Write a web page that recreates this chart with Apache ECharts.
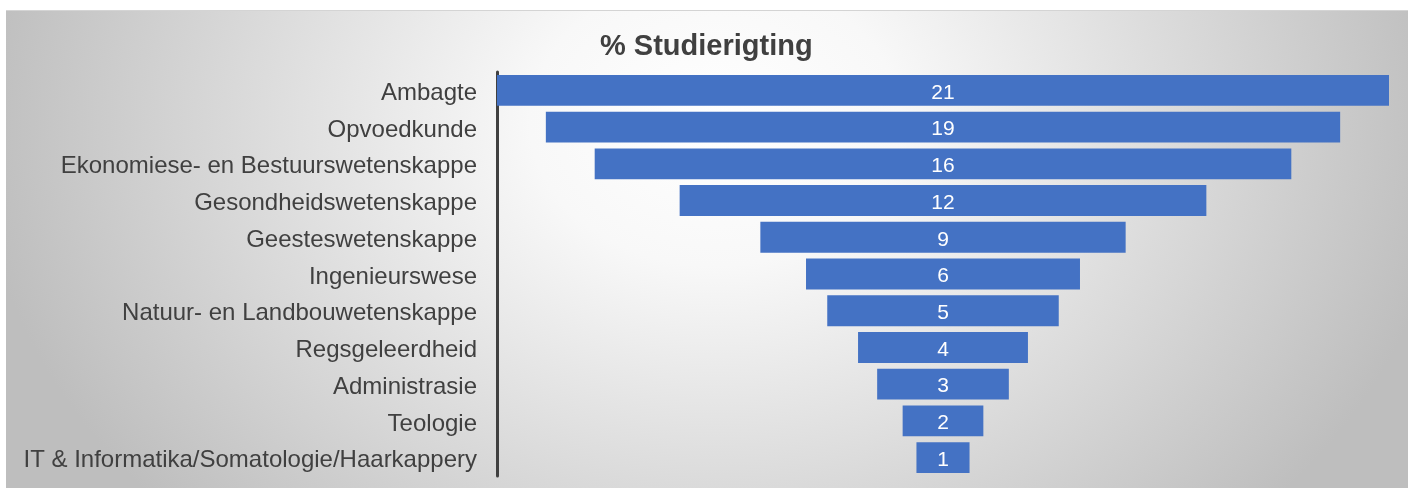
<!DOCTYPE html>
<html>
<head>
<meta charset="utf-8">
<script src="https://cdn.jsdelivr.net/npm/echarts@6/dist/echarts.min.js"></script>
<style>
  html, body { margin: 0; padding: 0; background: #ffffff; }
  #panel {
    position: absolute; left: 6px; top: 10px; width: 1402px; height: 478px;
    border-top: 1px solid #d4d4d4;
    background: radial-gradient(ellipse 740px 580px at 709px 110px, #ffffff 0%, #f8f8f8 25%, #bebebe 100%);
  }
  #chart { position: absolute; left: 0; top: 0; width: 1410px; height: 488px; }
</style>
</head>
<body>
<div id="panel"></div>
<div id="chart"></div>
<script>
const categories = [
  "Ambagte",
  "Opvoedkunde",
  "Ekonomiese- en Bestuurswetenskappe",
  "Gesondheidswetenskappe",
  "Geesteswetenskappe",
  "Ingenieurswese",
  "Natuur- en Landbouwetenskappe",
  "Regsgeleerdheid",
  "Administrasie",
  "Teologie",
  "IT & Informatika/Somatologie/Haarkappery"
];
const percentages = [21, 18.7, 16.4, 12.4, 8.6, 6.45, 5.45, 4.0, 3.1, 1.9, 1.25];
const titleText = "% Studierigting";

const maxVal = Math.max(...percentages);
const offsets = percentages.map(v => (maxVal - v) / 2);

const chart = echarts.init(document.getElementById('chart'), null, { renderer: 'canvas' });
chart.setOption({
  backgroundColor: 'transparent',
  animation: false,
  title: {
    text: titleText,
    left: 595,
    top: 27,
    textStyle: { fontFamily: 'Liberation Sans, Arial, sans-serif', fontSize: 29, fontWeight: 'bold', color: '#404040' }
  },
  grid: { left: 497, right: 21, top: 72, bottom: 12, containLabel: false },
  xAxis: { type: 'value', min: 0, max: maxVal, show: false },
  yAxis: {
    type: 'category',
    inverse: true,
    data: categories,
    axisLine: { show: true, lineStyle: { color: '#404040', width: 3 } },
    axisTick: { show: false },
    axisLabel: {
      margin: 20,
      formatter: v => '{c|' + v + '}',
      rich: {
        c: { fontFamily: 'Liberation Sans, Arial, sans-serif', fontSize: 24, color: '#404040', padding: [6, 0, 0, 0] }
      }
    }
  },
  series: [
    {
      type: 'bar', stack: 'funnel', data: offsets,
      itemStyle: { color: 'transparent' },
      barCategoryGap: '16%', silent: true
    },
    {
      type: 'bar', stack: 'funnel', data: percentages,
      barCategoryGap: '16%',
      itemStyle: { color: '#4472C4' },
      label: {
        show: true, position: 'inside',
        formatter: p => '{v|' + Math.round(p.value) + '}',
        rich: {
          v: { color: '#ffffff', fontFamily: 'Liberation Sans, Arial, sans-serif', fontSize: 21, padding: [5, 0, 0, 0] }
        }
      }
    }
  ]
});
</script>
</body>
</html>
